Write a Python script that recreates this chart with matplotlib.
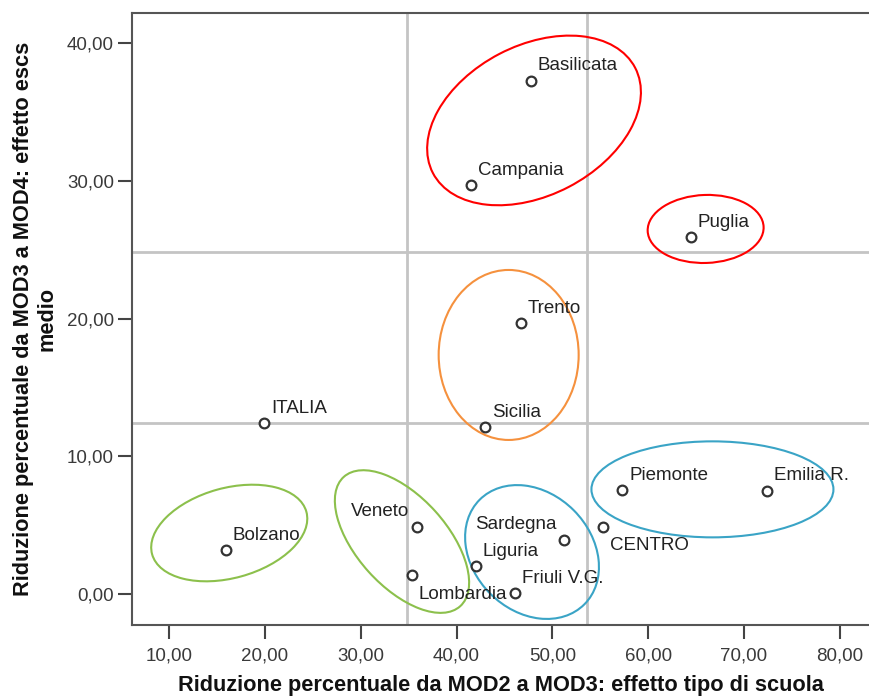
import matplotlib
matplotlib.use("Agg")
import matplotlib.pyplot as plt
from matplotlib.patches import Ellipse
from matplotlib.transforms import Affine2D, ScaledTranslation
from matplotlib.ticker import FuncFormatter

plt.rcParams['font.family'] = ['Liberation Sans', 'DejaVu Sans']

# data
regions = ["Basilicata", "Campania", "Puglia", "Trento", "Sicilia", "ITALIA",
           "Piemonte", "Emilia R.", "CENTRO", "Sardegna", "Veneto", "Lombardia",
           "Liguria", "Friuli V.G.", "Bolzano"]
rid_tipo_scuola = [47.77, 41.50, 64.48, 46.73, 42.97, 19.92,
                   57.31, 72.45, 55.32, 51.25, 35.83, 35.31,
                   42.00, 46.10, 15.89]
rid_escs = [37.28, 29.70, 25.90, 19.66, 12.11, 12.40,
            7.55, 7.50, 4.84, 3.92, 4.84, 1.38,
            2.03, 0.05, 3.20]

ref_x = [34.79, 53.59]
ref_y = [24.84, 12.44]

# groups circled on the chart: centre (data), semi-axes (px), angle, colour
groups = [
    ((48.09, 34.39), 114, 75, 27.5, "#ff0000"),
    ((66.01, 26.51), 58, 34, 2, "#ff0000"),
    ((45.44, 17.36), 70, 85, 0, "#f5913e"),
    ((66.72, 7.60), 121, 48, 0, "#3aa4c6"),
    ((47.88, 3.05), 74, 59, -45, "#3aa4c6"),
    ((34.30, 3.81), 87, 45, -48, "#8cc04c"),
    ((16.26, 4.43), 80, 45, 15.4, "#8cc04c"),
]

# label offsets in points (default is up-right of the marker)
label_pos = {"CENTRO": (5, -16.5, "left"), "Lombardia": (5, -17.5, "left"),
             "Sardegna": (-5.5, 7.8, "right"), "Veneto": (-5.5, 8.1, "right")}

fig = plt.figure(figsize=(8.69, 6.97), dpi=100)
ax = fig.add_axes([132 / 869, 72 / 697, 737 / 869, 611.7 / 697])

for xv in ref_x:
    ax.axvline(xv, color="#c4c4c4", lw=2.0, zorder=1)
for yv in ref_y:
    ax.axhline(yv, color="#c4c4c4", lw=2.0, zorder=1)

ax.plot(rid_tipo_scuola, rid_escs, "o", ls="none", ms=7, mfc="white",
        mec="#333333", mew=1.6, zorder=3)

for name, xv, yv in zip(regions, rid_tipo_scuola, rid_escs):
    dx, dy, ha = label_pos.get(name, (5, 7.5, "left"))
    ax.annotate(name, (xv, yv), xytext=(dx, dy), textcoords="offset points",
                ha=ha, va="baseline", fontsize=13.5, color="#222222", zorder=4)

ax.set_xlim(6.105, 83.07)
ax.set_ylim(-2.25, 42.17)

for (cx, cy), a, b, ang, col in groups:
    tr = Affine2D().scale(1 / 100) + fig.dpi_scale_trans + ScaledTranslation(cx, cy, ax.transData)
    e = Ellipse((0, 0), 2 * a, 2 * b, angle=ang, fill=False, ec=col, lw=1.5,
                transform=tr, zorder=2)
    ax.add_patch(e)

ax.set_xticks(range(10, 81, 10))
ax.set_yticks(range(0, 41, 10))
fmt = FuncFormatter(lambda v, p: f"{v:.2f}".replace(".", ","))
ax.xaxis.set_major_formatter(fmt)
ax.yaxis.set_major_formatter(fmt)
ax.tick_params(direction="out", length=10, width=1.5, color="#444444",
               labelsize=13.5, labelcolor="#3a3a3a", pad=3)
ax.tick_params(axis="x", pad=6)

for s in ["left", "bottom", "top"]:
    ax.spines[s].set_color("#555555")
    ax.spines[s].set_linewidth(1.5)
ax.spines["right"].set_visible(False)

ax.set_xlabel("Riduzione percentuale da MOD2 a MOD3: effetto tipo di scuola",
              fontsize=15.7, fontweight="bold", color="#111111", labelpad=7.5)
ax.set_ylabel("Riduzione percentuale da MOD3 a MOD4: effetto escs\nmedio",
              fontsize=15.7, fontweight="bold", color="#111111", labelpad=7,
              multialignment="center", linespacing=1.1)

fig.savefig("out.png", dpi=100)
